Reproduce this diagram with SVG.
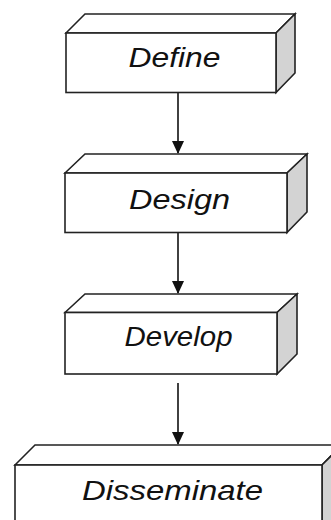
<svg xmlns="http://www.w3.org/2000/svg" width="331" height="520" viewBox="0 0 331 520">
  <defs>
    <style>
      .front { fill: #ffffff; stroke: #222222; stroke-width: 1.6; }
      .top { fill: #ffffff; stroke: #222222; stroke-width: 1.6; }
      .side { fill: #d3d3d3; stroke: #222222; stroke-width: 1.6; }
      .label { font-family: "Liberation Sans", Arial, sans-serif; font-style: italic; font-size: 28px; fill: #111111; text-anchor: middle; }
      .conn { stroke: #111111; stroke-width: 1.6; fill: none; marker-end: url(#arrow); }
    </style>
    <marker id="arrow" markerUnits="userSpaceOnUse" markerWidth="13" markerHeight="12" viewBox="0 0 13 12" refX="12" refY="6" orient="auto">
      <path d="M0,0 L13,6 L0,12 Z" fill="#111111"/>
    </marker>
  </defs>
  <rect width="331" height="520" fill="#ffffff"/>

  <g id="connectors">
    <line class="conn" x1="178" y1="92.5" x2="178" y2="153"/>
    <line class="conn" x1="178" y1="232.5" x2="178" y2="293"/>
    <line class="conn" x1="178" y1="383" x2="178" y2="444"/>
  </g>

  <g id="define">
    <polygon class="top" points="66,33 85,14 295,14 276,33"/>
    <polygon class="side" points="276,33 295,14 295,73 276,92.5"/>
    <rect class="front" x="66" y="33" width="210" height="59.5"/>
    <text class="label" x="174.5" y="66.5" textLength="92" lengthAdjust="spacingAndGlyphs">Define</text>
  </g>

  <g id="design">
    <polygon class="top" points="65,173 85,154 307,154 287,173"/>
    <polygon class="side" points="287,173 307,154 307,212 287,232.5"/>
    <rect class="front" x="65" y="173" width="222" height="59.5"/>
    <text class="label" x="179.5" y="209" textLength="101" lengthAdjust="spacingAndGlyphs">Design</text>
  </g>

  <g id="develop">
    <polygon class="top" points="65,312.5 85,294 297,294 277,312.5"/>
    <polygon class="side" points="277,312.5 297,294 297,354 277,374"/>
    <rect class="front" x="65" y="312.5" width="212" height="61.5"/>
    <text class="label" x="178.5" y="346" textLength="108" lengthAdjust="spacingAndGlyphs">Develop</text>
  </g>

  <g id="disseminate">
    <polygon class="top" points="15,465 35,445 342,445 322,465"/>
    <polygon class="side" points="322,465 342,445 342,540 322,540"/>
    <rect class="front" x="15" y="465" width="307" height="80"/>
    <text class="label" x="172.5" y="500" textLength="181" lengthAdjust="spacingAndGlyphs">Disseminate</text>
  </g>
</svg>
